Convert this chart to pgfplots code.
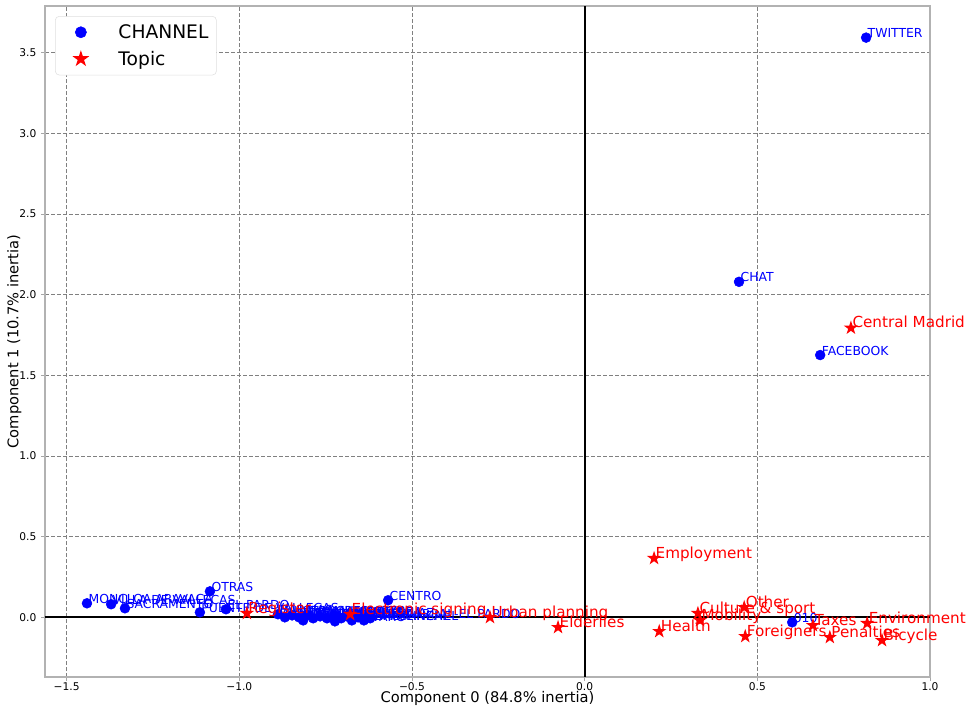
\documentclass[border=0pt]{standalone}
\usepackage{pgfplots}
\pgfplotsset{compat=1.18}
\usepackage{fontspec}
\setmainfont{DejaVu Sans}

\pgfdeclareplotmark{fstar}{%
  \pgfpathmoveto{\pgfpointpolar{90}{\pgfplotmarksize}}%
  \pgfpathlineto{\pgfpointpolar{126}{0.382\pgfplotmarksize}}%
  \pgfpathlineto{\pgfpointpolar{162}{\pgfplotmarksize}}%
  \pgfpathlineto{\pgfpointpolar{198}{0.382\pgfplotmarksize}}%
  \pgfpathlineto{\pgfpointpolar{234}{\pgfplotmarksize}}%
  \pgfpathlineto{\pgfpointpolar{270}{0.382\pgfplotmarksize}}%
  \pgfpathlineto{\pgfpointpolar{306}{\pgfplotmarksize}}%
  \pgfpathlineto{\pgfpointpolar{342}{0.382\pgfplotmarksize}}%
  \pgfpathlineto{\pgfpointpolar{18}{\pgfplotmarksize}}%
  \pgfpathlineto{\pgfpointpolar{54}{0.382\pgfplotmarksize}}%
  \pgfpathclose\pgfusepathqfill}

\pgfplotstableread[col sep=comma]{
x,y,label
0.815,3.594,TWITTER
0.447,2.080,CHAT
0.682,1.626,FACEBOOK
0.601,-0.031,010
-0.569,0.106,CENTRO
-1.085,0.161,OTRAS
-1.441,0.087,MONCLOA-ARAVACA
-1.371,0.081,VILLA DE VALLECAS
-1.331,0.056,SACRAMENTO
-1.114,0.031,PUENTE DE VALLECAS
-1.0385,0.050,EL PARDO
-0.888,0.019,BARAJAS
-0.868,0.000,LATINA
-0.847,0.012,USERA
-0.827,0.000,TETUAN
-0.807,0.012,CHAMBERI
-0.786,-0.006,RETIRO
-0.766,0.006,SALAMANCA
-0.746,-0.006,ARGANZUELA
-0.725,0.012,CHAMARTIN
-0.705,-0.006,SAN BLAS
-0.688,0.006,HORTALEZA
-0.674,-0.019,CIUDAD LINEAL
-0.656,0.000,MORATALAZ
-0.639,-0.019,CARABANCHEL
-0.723,-0.025,VICALVARO
-0.815,-0.019,VILLAVERDE
-0.621,-0.006,FUENCARRAL-EL PARDO
}\channels

\pgfplotstableread[col sep=comma]{
x,y,label
0.771,1.794,Central Madrid
0.201,0.366,Employment
-0.274,0.000,Urban planning
-0.077,-0.062,Elderlies
0.216,-0.087,Health
0.328,0.025,Culture \& sport
0.334,-0.019,Mobility
0.462,0.062,Other
0.465,-0.118,Foreigners
0.661,-0.050,Taxes
0.710,-0.124,Penalties
0.818,-0.037,Environment
0.861,-0.143,Bicycle
-0.978,0.025,Register
-0.679,0.019,Electronic signing
}\topics

\begin{document}
\begin{tikzpicture}
\useasboundingbox (-33.75pt,-23.25pt) rectangle (696pt,507.75pt);
\begin{axis}[
  at={(0pt,0pt)}, anchor=south west,
  scale only axis, width=663.75pt, height=503.25pt,
  xmin=-1.5625, xmax=1.0, ymin=-0.37, ymax=3.79,
  xtick={-1.5,-1,-0.5,0,0.5,1},
  xticklabels={−1.5,−1.0,−0.5,0.0,0.5,1.0},
  ytick={0,0.5,1,1.5,2,2.5,3,3.5},
  yticklabels={0.0,0.5,1.0,1.5,2.0,2.5,3.0,3.5},
  xtick pos=left, ytick pos=left,
  grid=major,
  grid style={gray, dash pattern=on 3pt off 1.5pt, line width=0.5pt},
  axis line style={gray!60, line width=0.8pt},
  tick align=outside, major tick length=3pt,
  tick style={gray!70, line width=0.6pt},
  ticklabel style={font=\fontsize{8}{9}\selectfont},
  xticklabel style={yshift=2pt},
  xlabel={Component 0 (84.8\% inertia)},
  ylabel={Component 1 (10.7\% inertia)},
  label style={font=\fontsize{11}{13}\selectfont},
  xlabel shift=-7pt,
  ylabel shift=-8.5pt,
  clip=false,
  legend style={at={(0.0113,0.985)}, anchor=north west, draw=gray!25,
    rounded corners=3pt, font=\fontsize{14}{16}\selectfont,
    row sep=4pt, inner xsep=4pt, inner ysep=4pt},
  legend cell align=left,
  legend image code/.code={%
    \path (0pt,0pt) (41pt,0pt);
    \draw[#1] plot coordinates {(15pt,0pt)};},
]
\draw[black, line width=1.3pt] (axis cs:0,-0.37) -- (axis cs:0,3.79);
\draw[black, line width=1.3pt] (axis cs:-1.5625,0) -- (axis cs:1,0);

\addplot[only marks, mark=*, mark size=3.7pt, color=blue,
  mark options={draw=blue, fill=blue},
  legend image post style={mark size=4.2pt},
  nodes near coords, point meta=explicit symbolic,
  every node near coord/.append style={anchor=base west, inner sep=0pt,
    xshift=1pt, text=blue, font=\fontsize{9.3}{10}\selectfont}]
  table[x=x, y=y, meta=label] {\channels};
\addlegendentry{CHANNEL}

\addplot[only marks, mark=fstar, mark size=5.6pt, color=red,
  mark options={draw=red, fill=red},
  legend image post style={mark size=6.6pt},
  nodes near coords, point meta=explicit symbolic,
  every node near coord/.append style={anchor=base west, inner sep=0pt,
    xshift=1pt, text=red, font=\fontsize{11.4}{13}\selectfont}]
  table[x=x, y=y, meta=label] {\topics};
\addlegendentry{Topic}
\end{axis}
\end{tikzpicture}
\end{document}
